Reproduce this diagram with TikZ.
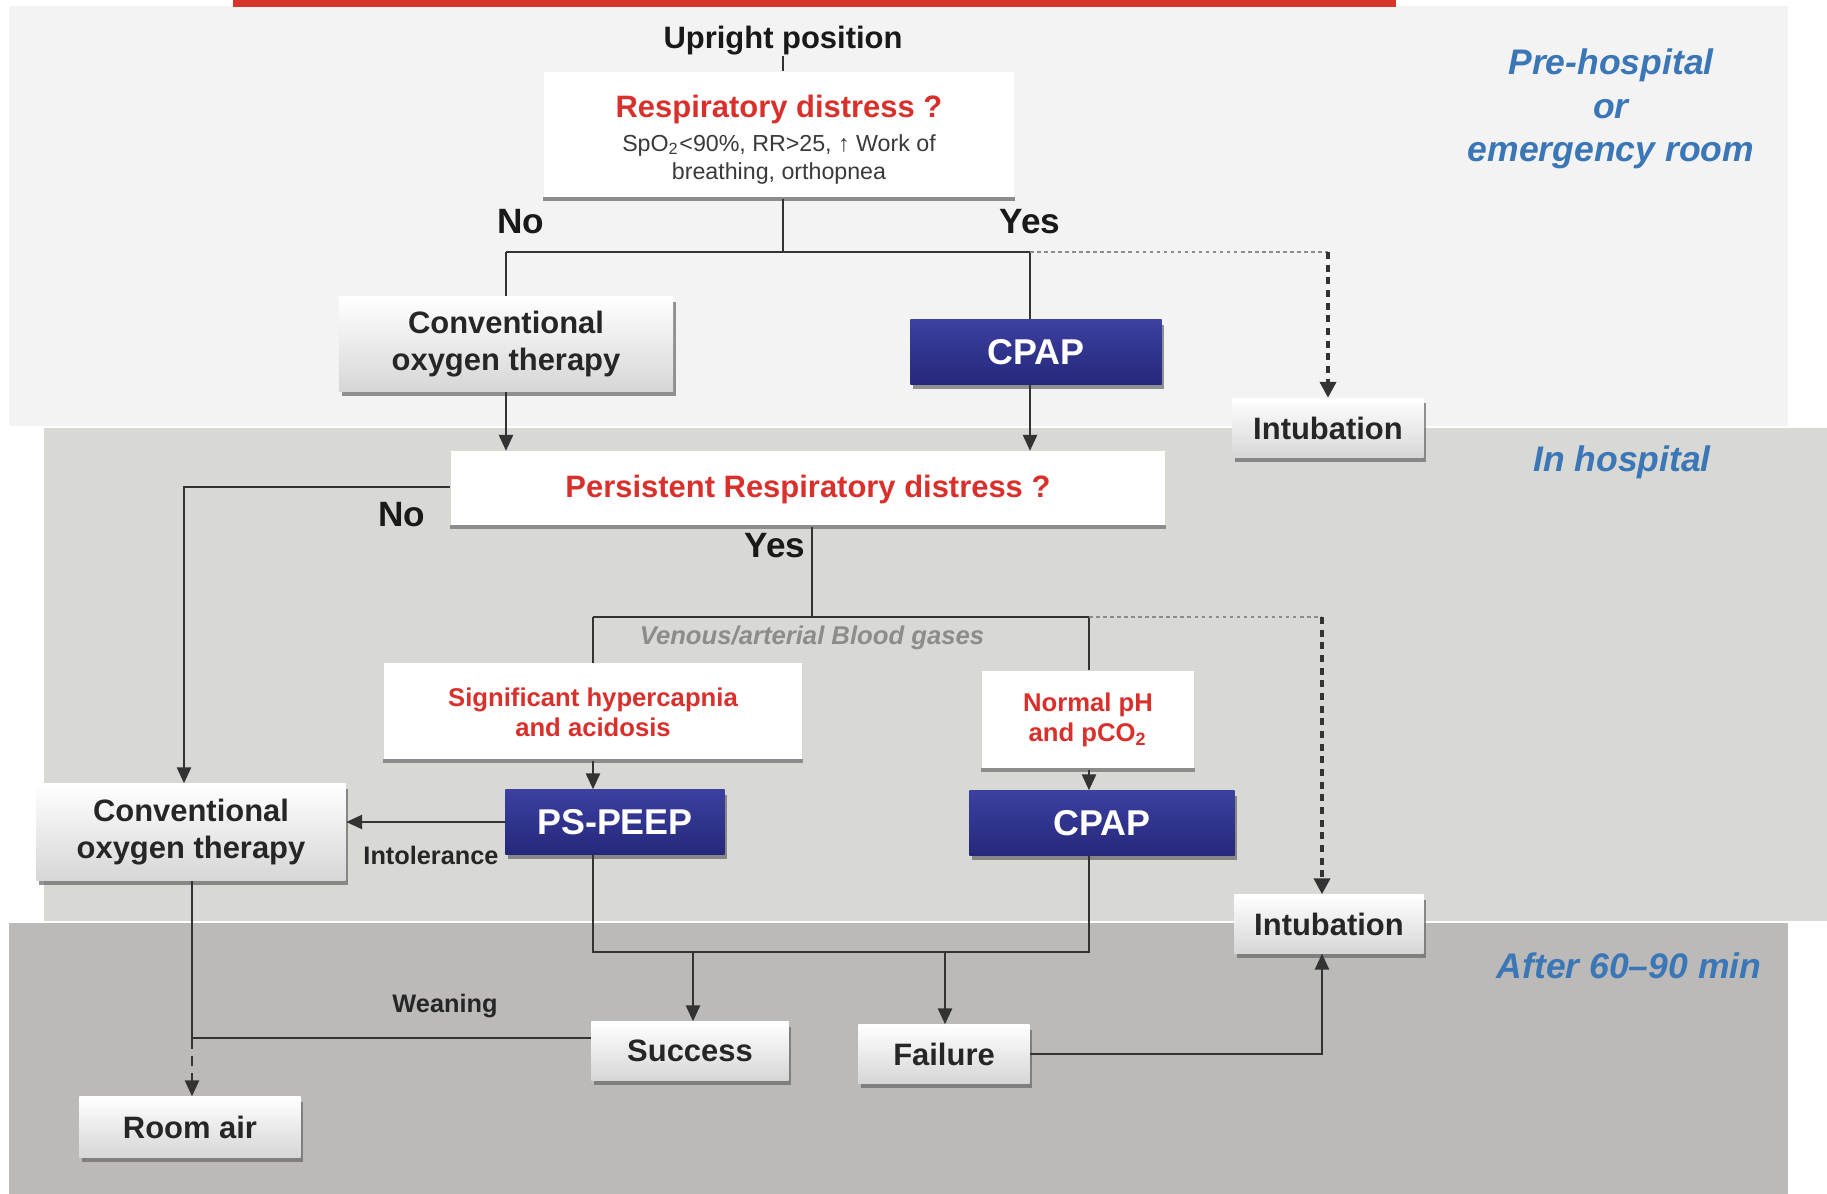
\documentclass[tikz,border=0pt]{standalone}
\usepackage{fontspec}
\setmainfont{Liberation Sans}
\usetikzlibrary{arrows.meta,shadows,calc}
\definecolor{bandA}{HTML}{F3F3F3}
\definecolor{bandB}{HTML}{D8D8D5}
\definecolor{bandC}{HTML}{BBBAB8}
\definecolor{redbar}{HTML}{D8352A}
\definecolor{qred}{HTML}{D9302C}
\definecolor{lblue}{HTML}{3B77B6}
\definecolor{navyT}{HTML}{3C40A0}
\definecolor{navyB}{HTML}{25287A}
\definecolor{lineC}{HTML}{333333}
\definecolor{subC}{HTML}{3A3A3A}
\tikzset{
  mainfont/.style={font=\fontsize{8.8}{10.6}\selectfont\bfseries},
  wbox/.style={rectangle, inner sep=0pt, align=center, top color=white, bottom color=black!16,
    text=black!85, mainfont,
    drop shadow={shadow xshift=0.8pt, shadow yshift=-1.4pt, fill=black!60, opacity=0.7}},
  bbox/.style={rectangle, inner sep=0pt, align=center, top color=navyT, bottom color=navyB,
    text=white, font=\fontsize{10.2}{12}\selectfont\bfseries,
    drop shadow={shadow xshift=0.8pt, shadow yshift=-1.4pt, fill=black!60, opacity=0.7}},
  qbox/.style={rectangle, inner sep=0pt, align=center, fill=white},
  qline/.style={draw=black!45, line width=1.2pt},
  conn/.style={draw=lineC, line width=0.6pt},
  arr/.style={conn, -{Triangle[width=4pt,length=4.5pt]}},
  dsh/.style={draw=black!80, line width=1.1pt, dash pattern=on 2pt off 1.6pt,
    -{Triangle[width=4.5pt,length=4.5pt]}},
  dotl/.style={draw=black!45, line width=0.5pt, dash pattern=on 1pt off 1pt},
  lbl/.style={font=\fontsize{10}{12}\selectfont\bfseries, text=black!90},
  slbl/.style={font=\fontsize{7.2}{8.6}\selectfont\bfseries, text=black!85},
  redt/.style={font=\fontsize{7.3}{8.6}\selectfont\bfseries, text=qred},
  blab/.style={text=lblue, font=\fontsize{10.1}{12.4}\selectfont\bfseries\itshape, align=center}
}
\begin{document}
\begin{tikzpicture}[x=0.01cm, y=-0.01cm]
\useasboundingbox (0,0) rectangle (1827,1194);
% bands
\fill[white] (0,0) rectangle (1827,1194);
\fill[bandA] (9,6) rectangle (1788,426);
\fill[bandB] (44,428) rectangle (1827,921);
\fill[bandC] (9,923) rectangle (1788,1194);
\fill[redbar] (233,0) rectangle (1396,7);

% phase labels
\node[blab] (ph) at (1611,109) {Pre-hospital\\or\\emergency room};
\node[blab] (ih) at (1622,462) {In hospital};
\node[blab] (af) at (1629,966) {After 60--90 min};

% nodes
\node[mainfont, text=black!90, inner sep=0pt] (up) at (783,41) {Upright position};
\node[qbox, minimum width=4.70cm, minimum height=1.26cm, font=\fontsize{6.6}{8}\selectfont, text=subC] (q1) at (779,135)
  {\rule{0pt}{9pt}{\fontsize{8.8}{10}\selectfont\bfseries\color{qred}Respiratory distress ?}\\[1.6pt]
   SpO\textsubscript{2}<90\%, RR>25, ↑ Work of\\breathing, orthopnea};
\draw[qline] (q1.south west) -- (q1.south east);

\node[wbox, minimum width=3.34cm, minimum height=0.94cm] (c1) at (506,344) {Conventional\\oxygen therapy};
\node[bbox, minimum width=2.51cm, minimum height=0.64cm] (cp1) at (1036,352) {CPAP};
\node[wbox, minimum width=1.91cm, minimum height=0.59cm] (i1) at (1328,428) {Intubation};

\node[qbox, minimum width=7.14cm, minimum height=0.75cm, font=\fontsize{8.8}{10}\selectfont\bfseries, text=qred] (pq) at (808,489) {Persistent Respiratory distress ?};
\draw[qline] (pq.south west) -- (pq.south east);

\node[qbox, minimum width=4.18cm, minimum height=0.97cm, redt] (hyp) at (593,712) {Significant hypercapnia\\and acidosis};
\draw[qline] (hyp.south west) -- (hyp.south east);
\node[qbox, minimum width=2.12cm, minimum height=0.98cm, redt] (nph) at (1088,720) {Normal pH\\and pCO\textsubscript{2}};
\draw[qline] (nph.south west) -- (nph.south east);

\node[bbox, minimum width=2.19cm, minimum height=0.64cm] (ps) at (615,822) {PS-PEEP};
\node[bbox, minimum width=2.65cm, minimum height=0.64cm] (cp2) at (1102,823) {CPAP};
\node[wbox, minimum width=3.09cm, minimum height=0.96cm] (c2) at (191,832) {Conventional\\oxygen therapy};
\node[wbox, minimum width=1.89cm, minimum height=0.58cm] (i2) at (1329,924) {Intubation};
\node[wbox, minimum width=1.97cm, minimum height=0.58cm] (su) at (690,1051) {Success};
\node[wbox, minimum width=1.71cm, minimum height=0.58cm] (fa) at (944,1054) {Failure};
\node[wbox, minimum width=2.21cm, minimum height=0.60cm] (ra) at (190,1127) {Room air};

% labels
\node[lbl] (no1) at (521,222) {No};
\node[lbl] (yes1) at (1030,222) {Yes};
\node[lbl] (no2) at (402,515) {No};
\node[lbl] (yes2) at (775,546) {Yes};
\node[slbl] (intol) at (431,855) {Intolerance};
\node[slbl] (wean) at (445,1006) {Weaning};
\node[font=\fontsize{7.3}{8.6}\selectfont\bfseries\itshape, text=black!45] (ven) at (812,638) {Venous/arterial Blood gases};

% connectors top
\coordinate (j1) at (783,252);
\coordinate (jL) at (506,252);
\coordinate (jR) at (1030,252);
\draw[conn] (up.south) -- (up.south |- q1.north);
\draw[conn] (j1 |- q1.south) -- (j1);
\draw[conn] (jL) -- (jR);
\draw[conn] (jL) -- (c1.north);
\draw[conn] (jR) -- (jR |- cp1.north);
\draw[dotl] (jR) -- (jR -| i1.north);
\draw[dsh] (jR -| i1.north) -- (i1.north);
\draw[arr] (c1.south) -- (c1.south |- pq.north);
\draw[arr] (jR |- cp1.south) -- (jR |- pq.north);

% in hospital
\coordinate (nL) at (184,487);
\draw[arr] (nL -| pq.west) -- (nL) -- (nL |- c2.north);
\coordinate (j2) at (812,617);
\coordinate (h2L) at (593,617);
\coordinate (h2R) at (1089,617);
\coordinate (d2) at (1322,617);
\draw[conn] (j2 |- pq.south) -- (j2);
\draw[conn] (h2L) -- (h2R);
\draw[conn] (h2L) -- (h2L |- hyp.north);
\draw[conn] (h2R) -- (h2R |- nph.north);
\draw[dotl] (h2R) -- (d2);
\draw[dsh] (d2) -- (d2 |- i2.north);
\draw[arr] (h2L |- hyp.south) -- (h2L |- ps.north);
\draw[arr] (h2R |- nph.south) -- (h2R |- cp2.north);
\draw[arr] (ps.west) -- (ps.west -| c2.east);

% after
\coordinate (b3L) at (593,952);
\coordinate (b3R) at (1089,952);
\draw[conn] (h2L |- ps.south) -- (b3L) -- (b3R) -- (h2R |- cp2.south);
\coordinate (sA) at (693,952);
\coordinate (fA) at (945,952);
\draw[arr] (sA) -- (sA |- su.north);
\draw[arr] (fA) -- (fA |- fa.north);
\draw[arr] (fa.east) -- (fa.east -| d2) -- (d2 |- i2.south);
\coordinate (w) at (192,1038);
\draw[conn] (w -| su.west) -- (w);
\draw[conn] (w |- c2.south) -- (w);
\draw[conn, dash pattern=on 3pt off 2pt, -{Triangle[width=4pt,length=4.5pt]}] (w) -- (w |- ra.north);
\end{tikzpicture}
\end{document}
